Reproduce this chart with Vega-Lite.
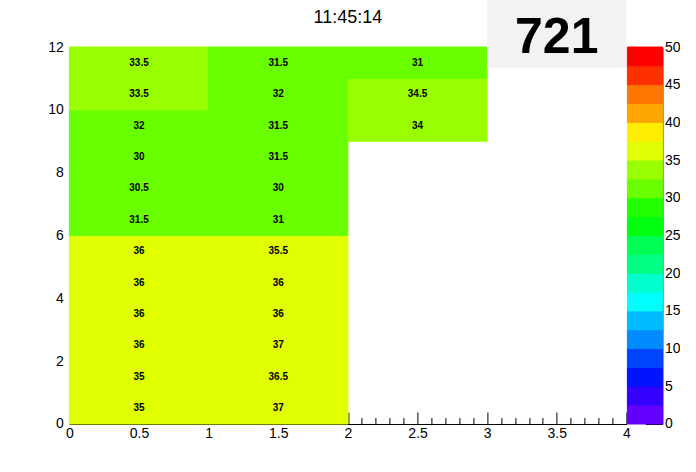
{
  "$schema": "https://vega.github.io/schema/vega-lite/v6.json",
  "autosize": {"type": "pad"},
  "padding": {"left": 47.4, "top": 0, "right": 0, "bottom": 0},
  "background": "white",
  "bounds": "flush",
  "spacing": 1,
  "config": {
    "view": {"stroke": null},
    "font": "Liberation Sans",
    "axis": {"labelFont": "Liberation Sans", "labelColor": "black", "labelFontSize": 14, "domainColor": "black", "tickColor": "black", "grid": false, "title": null}
  },
  "datasets": {
    "cells": [
      {"x": 0, "x2": 1, "y": 0, "y2": 1, "v": 35},
      {"x": 0, "x2": 1, "y": 1, "y2": 2, "v": 35},
      {"x": 0, "x2": 1, "y": 2, "y2": 3, "v": 36},
      {"x": 0, "x2": 1, "y": 3, "y2": 4, "v": 36},
      {"x": 0, "x2": 1, "y": 4, "y2": 5, "v": 36},
      {"x": 0, "x2": 1, "y": 5, "y2": 6, "v": 36},
      {"x": 0, "x2": 1, "y": 6, "y2": 7, "v": 31.5},
      {"x": 0, "x2": 1, "y": 7, "y2": 8, "v": 30.5},
      {"x": 0, "x2": 1, "y": 8, "y2": 9, "v": 30},
      {"x": 0, "x2": 1, "y": 9, "y2": 10, "v": 32},
      {"x": 0, "x2": 1, "y": 10, "y2": 11, "v": 33.5},
      {"x": 0, "x2": 1, "y": 11, "y2": 12, "v": 33.5},
      {"x": 1, "x2": 2, "y": 0, "y2": 1, "v": 37},
      {"x": 1, "x2": 2, "y": 1, "y2": 2, "v": 36.5},
      {"x": 1, "x2": 2, "y": 2, "y2": 3, "v": 37},
      {"x": 1, "x2": 2, "y": 3, "y2": 4, "v": 36},
      {"x": 1, "x2": 2, "y": 4, "y2": 5, "v": 36},
      {"x": 1, "x2": 2, "y": 5, "y2": 6, "v": 35.5},
      {"x": 1, "x2": 2, "y": 6, "y2": 7, "v": 31},
      {"x": 1, "x2": 2, "y": 7, "y2": 8, "v": 30},
      {"x": 1, "x2": 2, "y": 8, "y2": 9, "v": 31.5},
      {"x": 1, "x2": 2, "y": 9, "y2": 10, "v": 31.5},
      {"x": 1, "x2": 2, "y": 10, "y2": 11, "v": 32},
      {"x": 1, "x2": 2, "y": 11, "y2": 12, "v": 31.5},
      {"x": 2, "x2": 3, "y": 9, "y2": 10, "v": 34},
      {"x": 2, "x2": 3, "y": 10, "y2": 11, "v": 34.5},
      {"x": 2, "x2": 3, "y": 11, "y2": 12, "v": 31}
    ],
    "bands": [
      {"lo": 0, "hi": 2.5}, {"lo": 2.5, "hi": 5}, {"lo": 5, "hi": 7.5}, {"lo": 7.5, "hi": 10},
      {"lo": 10, "hi": 12.5}, {"lo": 12.5, "hi": 15}, {"lo": 15, "hi": 17.5}, {"lo": 17.5, "hi": 20},
      {"lo": 20, "hi": 22.5}, {"lo": 22.5, "hi": 25}, {"lo": 25, "hi": 27.5}, {"lo": 27.5, "hi": 30},
      {"lo": 30, "hi": 32.5}, {"lo": 32.5, "hi": 35}, {"lo": 35, "hi": 37.5}, {"lo": 37.5, "hi": 40},
      {"lo": 40, "hi": 42.5}, {"lo": 42.5, "hi": 45}, {"lo": 45, "hi": 47.5}, {"lo": 47.5, "hi": 50}
    ],
    "stats": [
      {"x": 3, "x2": 4, "y": 11.33, "y2": 13.496, "xc": 3.5, "yc": 12.29, "label": "721"}
    ]
  },
  "hconcat": [
    {
      "width": 557,
      "height": 377,
      "title": {"text": "11:45:14", "fontSize": 18, "fontWeight": "normal", "font": "Liberation Sans", "color": "black", "anchor": "middle", "offset": -27},
      "resolve": {"axis": {"x": "independent", "y": "independent"}},
      "layer": [
        {
          "data": {"name": "cells"},
          "mark": {"type": "rect", "strokeWidth": 1},
          "encoding": {
            "x": {"field": "x", "type": "quantitative", "scale": {"domain": [0, 4], "nice": false, "zero": false},
              "axis": {"orient": "bottom", "values": [0, 0.5, 1, 1.5, 2, 2.5, 3, 3.5, 4], "tickSize": -12, "labelPadding": 15, "format": "~g", "labelFlush": false}},
            "x2": {"field": "x2"},
            "y": {"field": "y", "type": "quantitative", "scale": {"domain": [0, 12], "nice": false, "zero": false},
              "axis": {"orient": "left", "values": [0, 2, 4, 6, 8, 10, 12], "ticks": false, "domain": false, "labelPadding": 6, "labelFlush": false}},
            "y2": {"field": "y2"},
            "color": {"field": "v", "type": "quantitative",
              "scale": {"type": "quantize", "domain": [0, 50], "nice": false, "zero": false,
                "range": ["#6300ff", "#3300ff", "#0014ff", "#0044ff", "#008bff", "#00bbff", "#00fffc", "#00ffcc", "#00ff85", "#00ff55", "#00ff0e", "#22ff00", "#69ff00", "#99ff00", "#e0ff00", "#ffee00", "#ffa700", "#ff7700", "#ff3000", "#ff0000"]},
              "legend": null},
            "stroke": {"field": "v", "type": "quantitative",
              "scale": {"type": "quantize", "domain": [0, 50], "nice": false, "zero": false,
                "range": ["#6300ff", "#3300ff", "#0014ff", "#0044ff", "#008bff", "#00bbff", "#00fffc", "#00ffcc", "#00ff85", "#00ff55", "#00ff0e", "#22ff00", "#69ff00", "#99ff00", "#e0ff00", "#ffee00", "#ffa700", "#ff7700", "#ff3000", "#ff0000"]},
              "legend": null}
          }
        },
        {
          "data": {"name": "cells"},
          "mark": {"type": "text", "font": "Liberation Sans", "fontWeight": "bold", "fontSize": 10, "color": "black", "dx": 69.6, "dy": -15.7, "align": "center", "baseline": "middle"},
          "encoding": {
            "x": {"field": "x", "type": "quantitative",
              "axis": {"orient": "bottom", "values": [0.1, 0.2, 0.3, 0.4, 0.6, 0.7, 0.8, 0.9, 1.1, 1.2, 1.3, 1.4, 1.6, 1.7, 1.8, 1.9, 2.1, 2.2, 2.3, 2.4, 2.6, 2.7, 2.8, 2.9, 3.1, 3.2, 3.3, 3.4, 3.6, 3.7, 3.8, 3.9], "tickSize": -6.5, "labels": false, "domain": false}},
            "y": {"field": "y", "type": "quantitative", "axis": null},
            "text": {"field": "v", "type": "quantitative"}
          }
        },
        {
          "data": {"name": "stats"},
          "mark": {"type": "rect", "color": "#f2f2f2"},
          "encoding": {
            "x": {"field": "x", "type": "quantitative", "axis": null},
            "x2": {"field": "x2"},
            "y": {"field": "y", "type": "quantitative", "axis": null},
            "y2": {"field": "y2"}
          }
        },
        {
          "data": {"name": "stats"},
          "mark": {"type": "text", "font": "Liberation Sans", "fontWeight": "bold", "fontSize": 50, "color": "black", "align": "center", "baseline": "middle"},
          "encoding": {
            "x": {"field": "xc", "type": "quantitative", "axis": null},
            "y": {"field": "yc", "type": "quantitative", "axis": null},
            "text": {"field": "label"}
          }
        }
      ]
    },
    {
      "width": 35,
      "height": 377,
      "data": {"name": "bands"},
      "mark": {"type": "rect", "strokeWidth": 1},
      "encoding": {
        "y": {"field": "lo", "type": "quantitative", "scale": {"domain": [0, 50], "nice": false, "zero": false},
          "axis": {"orient": "right", "values": [0, 5, 10, 15, 20, 25, 30, 35, 40, 45, 50], "tickSize": -17, "labelPadding": 19, "labelFlush": false}},
        "y2": {"field": "hi"},
        "color": {"field": "lo", "type": "quantitative",
          "scale": {"type": "quantize", "domain": [0, 50], "nice": false, "zero": false,
            "range": ["#6300ff", "#3300ff", "#0014ff", "#0044ff", "#008bff", "#00bbff", "#00fffc", "#00ffcc", "#00ff85", "#00ff55", "#00ff0e", "#22ff00", "#69ff00", "#99ff00", "#e0ff00", "#ffee00", "#ffa700", "#ff7700", "#ff3000", "#ff0000"]},
          "legend": null},
        "stroke": {"field": "lo", "type": "quantitative",
          "scale": {"type": "quantize", "domain": [0, 50], "nice": false, "zero": false,
            "range": ["#6300ff", "#3300ff", "#0014ff", "#0044ff", "#008bff", "#00bbff", "#00fffc", "#00ffcc", "#00ff85", "#00ff55", "#00ff0e", "#22ff00", "#69ff00", "#99ff00", "#e0ff00", "#ffee00", "#ffa700", "#ff7700", "#ff3000", "#ff0000"]},
          "legend": null}
      }
    }
  ]
}
